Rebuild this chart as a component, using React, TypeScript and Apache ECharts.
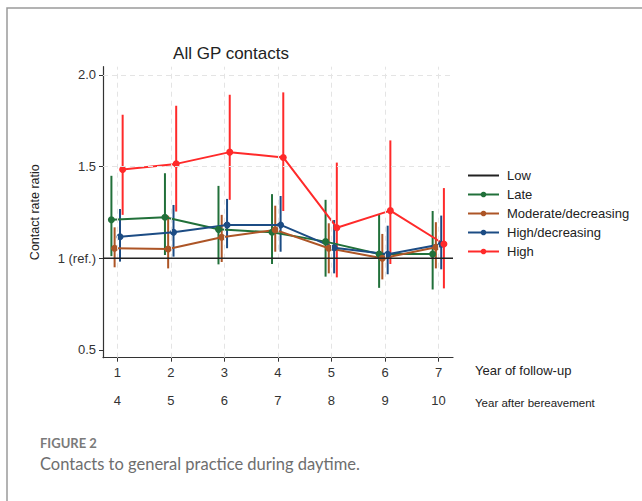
import React, { useEffect, useRef } from "react";
import * as echarts from "echarts";

const followUpYears = [1, 2, 3, 4, 5, 6, 7];
const bereavementYears = [4, 5, 6, 7, 8, 9, 10];
const yTickValues = [0.5, 1, 1.5, 2];
const yTickLabels = ["0.5", "1 (ref.)", "1.5", "2.0"];
const lowValue = 1;

const lateEst = [1.21, 1.224, 1.158, 1.142, 1.091, 1.023, 1.023];
const lateLo = [1.012, 1.018, 0.967, 0.969, 0.9, 0.839, 0.83];
const lateHi = [1.45, 1.464, 1.395, 1.35, 1.319, 1.237, 1.258];

const modEst = [1.055, 1.051, 1.115, 1.155, 1.055, 1.0, 1.06];
const modLo = [0.951, 0.945, 0.98, 1.036, 0.918, 0.885, 0.945];
const modHi = [1.169, 1.232, 1.237, 1.287, 1.191, 1.133, 1.197];

const hdEst = [1.118, 1.142, 1.182, 1.182, 1.058, 1.022, 1.077];
const hdLo = [0.982, 1.009, 1.055, 1.036, 0.918, 0.913, 0.94];
const hdHi = [1.269, 1.291, 1.324, 1.34, 1.209, 1.178, 1.233];

const highEst = [1.484, 1.515, 1.579, 1.55, 1.167, 1.26, 1.078];
const highLo = [1.237, 1.255, 1.319, 1.258, 0.896, 0.969, 0.836];
const highHi = [1.783, 1.832, 1.892, 1.905, 1.522, 1.643, 1.383];

const groups = [
  { name: "Late", color: "#21703a", offset: -0.11, est: lateEst, lo: lateLo, hi: lateHi },
  { name: "Moderate/decreasing", color: "#ad5526", offset: -0.05, est: modEst, lo: modLo, hi: modHi },
  { name: "High/decreasing", color: "#1c4c84", offset: 0.05, est: hdEst, lo: hdLo, hi: hdHi },
  { name: "High", color: "#ff2a2a", offset: 0.1, est: highEst, lo: highLo, hi: highHi },
];

const X_MIN = 0.733;
const X_MAX = 7.27;
const Y_MIN = 0.458;
const Y_MAX = 2.045;
const FONT = "Arial";

export default function App() {
  const ref = useRef<HTMLDivElement>(null);
  useEffect(() => {
    if (!ref.current) return;
    const chart = echarts.init(ref.current, null, { renderer: "svg" });
    const series: any[] = [];
    series.push({
      name: "grid",
      type: "line",
      data: [],
      silent: true,
      markLine: {
        silent: true,
        symbol: "none",
        label: { show: false },
        lineStyle: { type: [5, 4], color: "#e4e4e4", width: 1 },
        data: [
          ...followUpYears.map((v) => ({ xAxis: v })),
          { yAxis: 1.5 },
          { yAxis: 2 },
        ],
      },
    });
    series.push({
      name: "Low",
      type: "line",
      symbol: "none",
      color: "#222222",
      lineStyle: { width: 1.6, color: "#222222" },
      data: [
        [X_MIN, lowValue],
        [X_MAX, lowValue],
      ],
      z: 5,
    });
    groups.forEach((g) => {
      series.push({
        name: g.name + " CI",
        type: "custom",
        data: followUpYears.map((x, i) => [x + g.offset, g.lo[i], g.hi[i]]),
        encode: { x: 0, y: [1, 2] },
        renderItem: (params: any, api: any) => {
          const x = api.value(0);
          const a = api.coord([x, api.value(1)]);
          const b = api.coord([x, api.value(2)]);
          return {
            type: "line",
            shape: { x1: a[0], y1: a[1], x2: b[0], y2: b[1] },
            style: { stroke: g.color, lineWidth: 2 },
          };
        },
        z: 3,
      });
      series.push({
        name: g.name,
        type: "line",
        color: g.color,
        symbol: "circle",
        symbolSize: 7,
        lineStyle: { width: 2, color: g.color },
        itemStyle: { color: g.color },
        data: followUpYears.map((x, i) => [x + g.offset, g.est[i]]),
        z: 4,
      });
    });

    chart.setOption({
      animation: false,
      backgroundColor: "#ffffff",
      textStyle: { fontFamily: FONT },
      title: {
        text: "All GP contacts",
        left: 226,
        top: 40,
        textAlign: "center",
        textStyle: { fontFamily: FONT, fontSize: 17, fontWeight: "normal", color: "#222" },
      },
      legend: {
        orient: "vertical",
        left: 462,
        top: 164,
        itemWidth: 31,
        itemHeight: 7,
        itemGap: 6,
        data: [
          { name: "Low", itemStyle: { opacity: 0 } },
          "Late",
          "Moderate/decreasing",
          "High/decreasing",
          "High",
        ],
        textStyle: { fontFamily: FONT, fontSize: 13, color: "#222", padding: [0, 0, 0, 3] },
      },
      grid: { left: 103, top: 66.7, right: 189, bottom: 143.3, containLabel: false },
      xAxis: {
        type: "value",
        min: X_MIN,
        max: X_MAX,
        axisLine: { show: true, lineStyle: { color: "#333", width: 1.2 } },
        axisTick: { show: true, length: 4, customValues: followUpYears, lineStyle: { color: "#333" } },
        splitLine: { show: false },
        axisLabel: {
          customValues: followUpYears,
          margin: 1,
          lineHeight: 28,
          fontSize: 13,
          color: "#333",
          fontFamily: FONT,
          formatter: (v: number) => {
            const i = followUpYears.indexOf(Math.round(v));
            return `${followUpYears[i]}\n${bereavementYears[i]}`;
          },
        },
      },
      yAxis: {
        type: "value",
        min: Y_MIN,
        max: Y_MAX,
        name: "Contact rate ratio",
        nameLocation: "middle",
        nameGap: 62,
        nameTextStyle: { fontFamily: FONT, fontSize: 12.5, color: "#222" },
        axisLine: { show: true, lineStyle: { color: "#333", width: 1.2 } },
        axisTick: { show: true, length: 4, customValues: yTickValues, lineStyle: { color: "#333" } },
        splitLine: { show: false },
        axisLabel: {
          customValues: yTickValues,
          margin: 7,
          fontSize: 13,
          color: "#333",
          fontFamily: FONT,
          formatter: (v: number) => {
            let best = 0;
            yTickValues.forEach((t, i) => {
              if (Math.abs(t - v) < Math.abs(yTickValues[best] - v)) best = i;
            });
            return yTickLabels[best];
          },
        },
      },
      graphic: [
        {
          type: "rect",
          shape: { x: 7, y: 8, width: 700, height: 600 },
          style: { fill: "none", stroke: "#9a9a9a", lineWidth: 1.5 },
          silent: true,
        },
        {
          type: "text",
          left: 475,
          top: 364,
          style: { text: "Year of follow-up", font: `13px ${FONT}`, fill: "#222" },
        },
        {
          type: "text",
          left: 475,
          top: 397,
          style: { text: "Year after bereavement", font: `11.5px ${FONT}`, fill: "#222" },
        },
        {
          type: "text",
          left: 40,
          top: 436,
          style: { text: "FIGURE 2", font: `bold 13px Lato, sans-serif`, fill: "#7a7a7a" },
        },
        {
          type: "text",
          left: 40,
          top: 455,
          style: {
            text: "Contacts to general practice during daytime.",
            font: `16.5px Lato, sans-serif`,
            fill: "#6e6e6e",
          },
        },
      ],
      series,
    });
    return () => chart.dispose();
  }, []);
  return (
    <div
      ref={ref}
      style={{ position: "absolute", left: 0, top: 0, width: 642, height: 501 }}
    />
  );
}
